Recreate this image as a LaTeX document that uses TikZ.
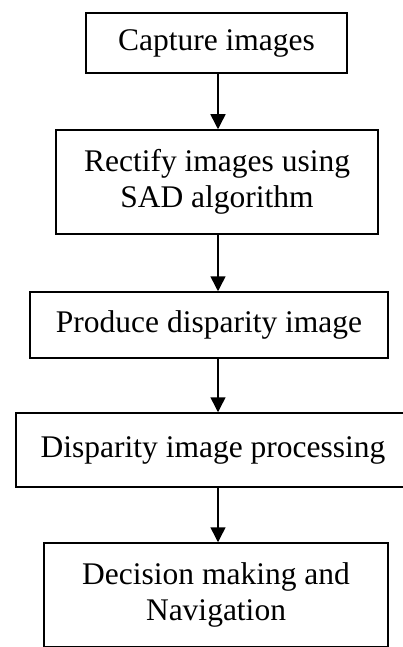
\documentclass[tikz,border=0pt]{standalone}
\usepackage{fontspec}
\setmainfont{Liberation Serif}
\usetikzlibrary{arrows.meta}

\begin{document}
\begin{tikzpicture}[x=1pt, y=1pt,
    stage/.style={draw, line width=1.5pt, inner sep=0, align=center,
        font=\fontsize{31.5}{36}\selectfont},
    flow/.style={line width=1.5pt, -{Triangle[length=15pt, width=15pt]}}
]
\clip (0, 0) rectangle (403, -647);

\node[stage, minimum width=261, minimum height=60] (capture) at (216.5, -43) {Capture images};
\node[stage, minimum width=322, minimum height=104] (rectify) at (217, -182) {Rectify images using\\SAD algorithm};
\node[stage, minimum width=358, minimum height=66] (produce) at (209, -325) {Produce disparity image};
\node[stage, minimum width=394, minimum height=74] (process) at (213, -450) {Disparity image processing};
\node[stage, minimum width=344, minimum height=104] (decide) at (216, -595) {Decision making and\\Navigation};

\coordinate (spine) at (218, 0);
\foreach \a/\b in {capture/rectify, rectify/produce, produce/process, process/decide}{
    \draw[flow] (\a.south -| spine) -- (\b.north -| spine);
}

\end{tikzpicture}
\end{document}
